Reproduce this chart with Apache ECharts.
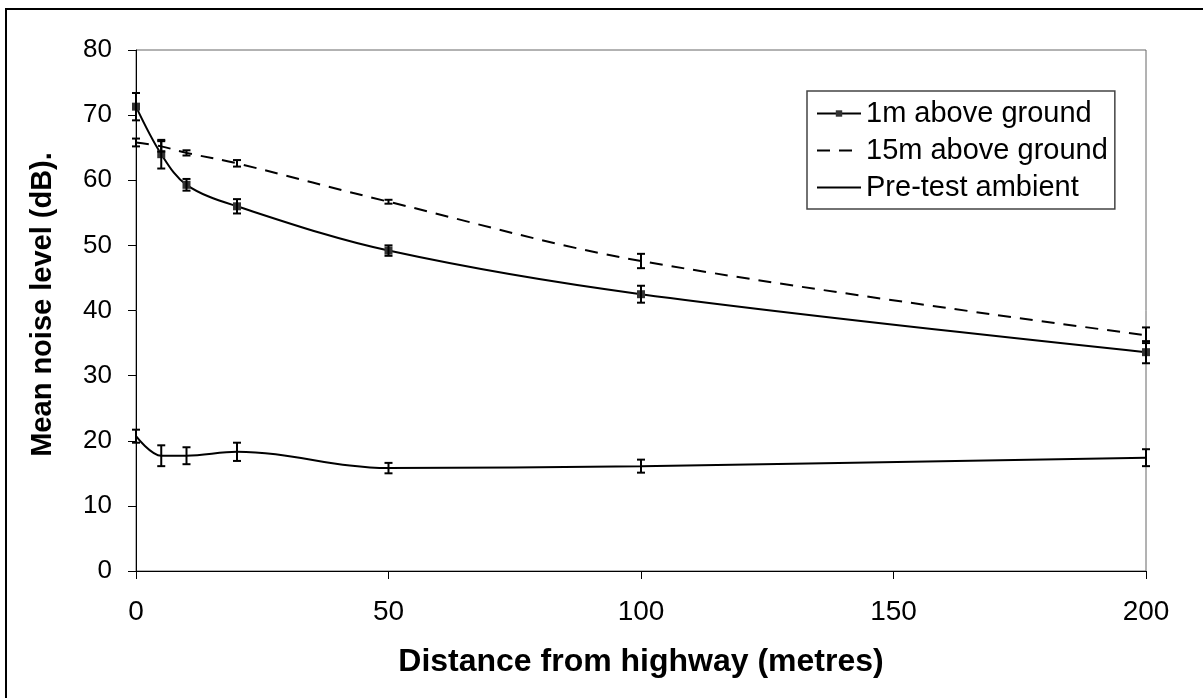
<!DOCTYPE html>
<html>
<head>
<meta charset="utf-8">
<script src="https://cdn.jsdelivr.net/npm/echarts@6/dist/echarts.min.js"></script>
<style>
html,body{margin:0;padding:0;background:#fff;}
#chart{width:1203px;height:698px;}
</style>
</head>
<body>
<div id="chart"></div>
<script>
// ---- data ----
var distances = [0, 5, 10, 20, 50, 100, 200];
var oneMeter = [71.3, 64.0, 59.3, 56.0, 49.2, 42.5, 33.6];
var oneMeterErr = [2.1, 2.2, 0.9, 1.1, 0.8, 1.3, 1.7];
var fifteenMeter = [65.8, 65.2, 64.2, 62.6, 56.7, 47.6, 36.2];
var fifteenMeterErr = [0.6, 0.8, 0.4, 0.5, 0.3, 1.1, 1.2];
var ambient = [20.7, 17.7, 17.7, 18.3, 15.8, 16.1, 17.4];
var ambientErr = [1.0, 1.6, 1.3, 1.4, 0.8, 1.0, 1.3];
var seriesNames = ['1m above ground', '15m above ground', 'Pre-test ambient'];
var xTicks = [0, 50, 100, 150, 200];
var yTicks = [0, 10, 20, 30, 40, 50, 60, 70, 80];

function pairs(vals) {
  return distances.map(function (d, i) { return [d, vals[i]]; });
}
function errData(vals, errs) {
  return distances.map(function (d, i) { return [d, vals[i], errs[i]]; });
}
function errRender(params, api) {
  var x = api.value(0), y = api.value(1), e = api.value(2);
  var top = api.coord([x, y + e]);
  var bot = api.coord([x, y - e]);
  var cap = 4;
  var st = { stroke: '#000', lineWidth: 2 };
  return {
    type: 'group',
    children: [
      { type: 'line', shape: { x1: top[0], y1: top[1], x2: bot[0], y2: bot[1] }, style: st },
      { type: 'line', shape: { x1: top[0] - cap, y1: top[1], x2: top[0] + cap, y2: top[1] }, style: st },
      { type: 'line', shape: { x1: bot[0] - cap, y1: bot[1], x2: bot[0] + cap, y2: bot[1] }, style: st }
    ]
  };
}

var font = 'Liberation Sans, Arial, sans-serif';
var chart = echarts.init(document.getElementById('chart'), null, { renderer: 'canvas' });
chart.setOption({
  animation: false,
  backgroundColor: '#fff',
  graphic: [{
    type: 'rect', z: 100, silent: true,
    shape: { x: 6, y: 9, width: 1400, height: 900 },
    style: { fill: 'none', stroke: '#000', lineWidth: 2 }
  }],
  grid: {
    left: 136, right: 57, top: 50, bottom: 127,
    containLabel: false, outerBoundsMode: 'none',
    show: true, borderColor: '#666', borderWidth: 1, backgroundColor: 'transparent'
  },
  legend: {
    orient: 'vertical',
    left: 807, top: 91,
    data: [
      { name: seriesNames[0] },
      { name: seriesNames[1], itemStyle: { opacity: 0 } },
      { name: seriesNames[2], itemStyle: { opacity: 0 } }
    ],
    itemWidth: 44, itemHeight: 8, itemGap: 8,
    padding: [8, 7, 7, 9],
    borderColor: '#444', borderWidth: 1.5, borderRadius: 0,
    backgroundColor: '#fff',
    textStyle: { fontFamily: font, fontSize: 29, color: '#000' }
  },
  xAxis: {
    type: 'value', min: 0, max: 200, interval: 50,
    name: 'Distance from highway (metres)',
    nameLocation: 'middle', nameGap: 75,
    nameTextStyle: { fontFamily: font, fontSize: 32, fontWeight: 'bold', color: '#000' },
    axisLine: { show: true, lineStyle: { color: '#000', width: 1 } },
    axisTick: { show: true, inside: false, length: 8, lineStyle: { color: '#000' } },
    axisLabel: { fontFamily: font, fontSize: 28, color: '#000', margin: 27,
      formatter: function (v) { return xTicks.indexOf(v) >= 0 ? String(v) : ''; } },
    splitLine: { show: false }
  },
  yAxis: {
    type: 'value', min: 0, max: 80, interval: 10,
    name: 'Mean noise level (dB).',
    nameLocation: 'middle', nameGap: 79, nameRotate: 90,
    nameTextStyle: { fontFamily: font, fontSize: 29, fontWeight: 'bold', color: '#000', padding: [0, 0, 0, 12] },
    axisLine: { show: true, lineStyle: { color: '#000', width: 1 } },
    axisTick: { show: true, inside: false, length: 8, lineStyle: { color: '#000' } },
    axisLabel: { fontFamily: font, fontSize: 26, color: '#000', margin: 24,
      formatter: function (v) { return yTicks.indexOf(v) >= 0 ? String(v) : ''; } },
    splitLine: { show: false }
  },
  series: [
    {
      name: seriesNames[0], type: 'line', data: pairs(oneMeter), smooth: 0.35,
      symbol: 'rect', symbolSize: 8, showAllSymbol: true,
      lineStyle: { color: '#000', width: 2 },
      itemStyle: { color: '#333', borderWidth: 0 },
      z: 3
    },
    {
      name: seriesNames[1], type: 'line', data: pairs(fifteenMeter), smooth: 0.35,
      symbol: 'none',
      lineStyle: { color: '#000', width: 2, type: [13, 9] },
      itemStyle: { color: '#000' },
      z: 3
    },
    {
      name: seriesNames[2], type: 'line', data: pairs(ambient), smooth: 0.35,
      symbol: 'none',
      lineStyle: { color: '#000', width: 2 },
      itemStyle: { color: '#000' },
      z: 3
    },
    { type: 'custom', name: 'err1', data: errData(oneMeter, oneMeterErr), renderItem: errRender, z: 4, clip: false },
    { type: 'custom', name: 'err2', data: errData(fifteenMeter, fifteenMeterErr), renderItem: errRender, z: 4, clip: false },
    { type: 'custom', name: 'err3', data: errData(ambient, ambientErr), renderItem: errRender, z: 4, clip: false }
  ]
});
</script>
</body>
</html>
